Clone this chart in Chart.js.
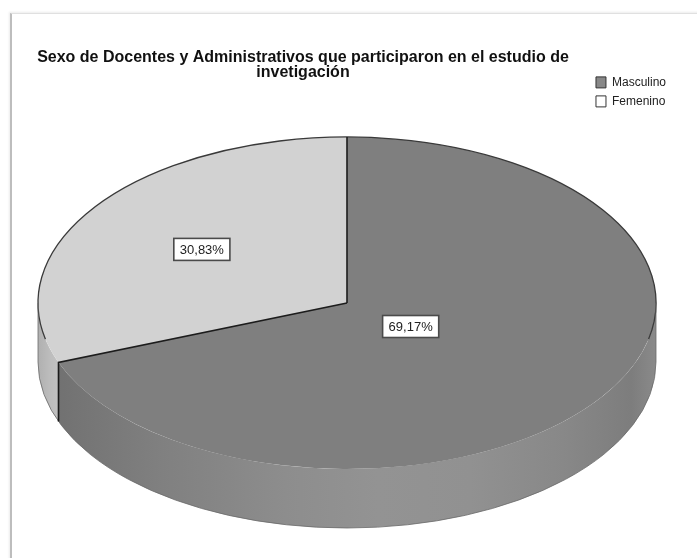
<!DOCTYPE html>
<html>
<head>
<meta charset="utf-8">
<script src="https://cdn.jsdelivr.net/npm/chart.js@4.4.0/dist/chart.umd.min.js"></script>
<style>
  html, body { margin: 0; padding: 0; background: #fff; }
  #frame {
    position: absolute; left: 10px; top: 13px; width: 700px; height: 560px;
    border-left: 2px solid #bdbdbd; border-top: 1px solid #e0e0e0;
    box-shadow: -1px -1px 2px #ececec;
  }
  #myChart { position: absolute; left: 0; top: 0; }
</style>
</head>
<body>
<div id="frame"></div>
<canvas id="myChart" width="697" height="558"></canvas>
<script>
const categories = ['Masculino', 'Femenino'];
const percentValues = [69.17, 30.83];
const percentLabels = ['69,17%', '30,83%'];
const titleLines = [
  'Sexo de Docentes y Administrativos que participaron en el estudio de',
  'invetigación',
];

const COLOR_TOP = ['#7f7f7f', '#d2d2d2'];
const COLOR_LEGEND = ['#888888', '#ffffff'];
const FONT_FAMILY = '"Liberation Sans", Arial, sans-serif';

// where the flattened pie sits on the page
const PIE_CX = 347;
const PIE_CY = 303;
const PIE_RX = 309;
const PIE_RY = 166;
const PIE_DEPTH = 59;
const LABEL_RADIUS = [0.25, 0.57];

const ctx = document.querySelector('#myChart');

/**
 * Point on the top ellipse for a given arc angle.
 */
function ellipsePoint(angle, scale, dy) {
  return {
    x: PIE_CX + PIE_RX * scale * Math.cos(angle),
    y: PIE_CY + PIE_RY * scale * Math.sin(angle) + (dy || 0),
  };
}

/**
 * Visible part (front half) of an arc, or null.
 */
function frontRange(start, end) {
  const a1 = Math.max(start, 0);
  const a2 = Math.min(end, Math.PI);
  return a2 > a1 ? [a1, a2] : null;
}

function sideGradient(c, stops) {
  const g = c.createLinearGradient(PIE_CX - PIE_RX, 0, PIE_CX + PIE_RX, 0);
  stops.forEach((s) => g.addColorStop(s[0], s[1]));
  return g;
}

const SIDE_STOPS = [
  [[0, '#6e6e6e'], [0.06, '#747474'], [0.2, '#808080'], [0.4, '#8d8d8d'],
    [0.55, '#939393'], [0.7, '#919191'], [0.85, '#888888'], [0.96, '#7d7d7d'], [1, '#8a8a8a']],
  [[0, '#b0b0b0'], [0.02, '#bdbdbd'], [0.04, '#c4c4c4'], [1, '#c4c4c4']],
];

const pie3d = {
  id: 'pie3d',
  beforeDatasetsDraw(chart) {
    const c = chart.ctx;
    const arcs = chart.getDatasetMeta(0).data;
    const first = arcs[0];
    const r = first.outerRadius;

    // side walls
    arcs.forEach((arc, i) => {
      const range = frontRange(arc.startAngle, arc.endAngle);
      if (!range) return;
      c.save();
      c.beginPath();
      c.ellipse(PIE_CX, PIE_CY, PIE_RX, PIE_RY, 0, range[0], range[1]);
      c.ellipse(PIE_CX, PIE_CY + PIE_DEPTH, PIE_RX, PIE_RY, 0, range[1], range[0], true);
      c.closePath();
      c.fillStyle = sideGradient(c, SIDE_STOPS[i]);
      c.fill();
      c.restore();
    });

    // squash the library's pie into the ellipse
    c.save();
    c.translate(PIE_CX, PIE_CY);
    c.scale(PIE_RX / r, PIE_RY / r);
    c.translate(-first.x, -first.y);
  },
  afterDatasetsDraw(chart) {
    const c = chart.ctx;
    c.restore();
    const arcs = chart.getDatasetMeta(0).data;

    // outline of the rim
    c.save();
    c.strokeStyle = '#3a3a3a';
    c.lineWidth = 1.3;
    c.beginPath();
    c.ellipse(PIE_CX, PIE_CY, PIE_RX, PIE_RY, 0, Math.PI * 0.93, Math.PI * 2.07);
    c.stroke();
    c.strokeStyle = '#6a6a6a';
    c.lineWidth = 0.8;
    c.beginPath();
    c.ellipse(PIE_CX, PIE_CY + PIE_DEPTH, PIE_RX, PIE_RY, 0, 0, Math.PI);
    c.stroke();
    c.beginPath();
    c.moveTo(PIE_CX + PIE_RX, PIE_CY);
    c.lineTo(PIE_CX + PIE_RX, PIE_CY + PIE_DEPTH);
    c.moveTo(PIE_CX - PIE_RX, PIE_CY);
    c.lineTo(PIE_CX - PIE_RX, PIE_CY + PIE_DEPTH);
    c.stroke();

    // slice dividers
    c.strokeStyle = '#1c1c1c';
    c.lineWidth = 1.6;
    arcs.forEach((arc) => {
      const p = ellipsePoint(arc.startAngle, 1);
      c.beginPath();
      c.moveTo(PIE_CX, PIE_CY);
      c.lineTo(p.x, p.y);
      const s = Math.sin(arc.startAngle);
      if (s > 0) c.lineTo(p.x, p.y + PIE_DEPTH);
      c.stroke();
    });

    // value labels
    c.font = '13px ' + FONT_FAMILY;
    c.textAlign = 'center';
    c.textBaseline = 'middle';
    arcs.forEach((arc, i) => {
      const mid = (arc.startAngle + arc.endAngle) / 2;
      const p = ellipsePoint(mid, LABEL_RADIUS[i]);
      const w = c.measureText(percentLabels[i]).width + 12;
      const h = 22;
      c.fillStyle = '#ffffff';
      c.fillRect(p.x - w / 2, p.y - h / 2, w, h);
      c.strokeStyle = '#4a4a4a';
      c.lineWidth = 1.6;
      c.strokeRect(p.x - w / 2, p.y - h / 2, w, h);
      c.fillStyle = '#222';
      c.fillText(percentLabels[i], p.x, p.y + 1);
    });
    c.restore();
  },
};

const pieChart = new Chart(ctx, {
  type: 'pie',
  data: {
    labels: categories,
    datasets: [{
      data: percentValues,
      backgroundColor: COLOR_TOP,
      borderWidth: 0,
    }],
  },
  options: {
    responsive: false,
    animation: false,
    devicePixelRatio: 1,
    layout: {
      padding: {top: 50, left: 17, right: 21, bottom: 10},
    },
    plugins: {
      tooltip: {enabled: false},
      title: {
        display: true,
        fullSize: false,
        text: titleLines,
        color: '#111',
        font: {family: FONT_FAMILY, size: 16, weight: 'bold', lineHeight: 0.95},
        padding: {top: 0, bottom: 2},
      },
      legend: {
        position: 'right',
        align: 'start',
        fullSize: true,
        title: {
          display: true,
          text: '',
          font: {family: FONT_FAMILY, size: 12, lineHeight: 1.2},
          padding: {top: 5, bottom: 0},
        },
        labels: {
          boxWidth: 10,
          boxHeight: 11,
          padding: 7,
          color: '#222',
          font: {family: FONT_FAMILY, size: 12},
          generateLabels: () => categories.map((name, i) => ({
            text: name,
            fillStyle: COLOR_LEGEND[i],
            strokeStyle: '#333',
            lineWidth: 1,
            hidden: false,
            index: i,
            fontColor: '#222',
          })),
        },
      },
    },
  },
  plugins: [pie3d],
});
</script>
</body>
</html>
